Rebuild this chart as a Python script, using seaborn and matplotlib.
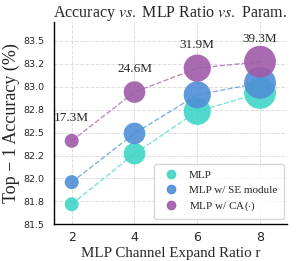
import numpy as np
import pandas as pd
import matplotlib
matplotlib.use("Agg")
import matplotlib.pyplot as plt
import seaborn as sns

ratios = [2, 4, 6, 8]
params = [17.3, 24.6, 31.9, 39.3]
param_labels = ["17.3M", "24.6M", "31.9M", "39.3M"]
acc_mlp = [81.72, 82.27, 82.73, 82.93]
acc_se = [81.96, 82.49, 82.91, 83.04]
acc_ca = [82.41, 82.94, 83.20, 83.27]
series_names = ["MLP", "MLP w/ SE module", r"MLP w/ CA($\cdot$)"]
colors = ["#40d6c8", "#4f8fd6", "#a05ba8"]

sns.set_theme(style="whitegrid")
plt.rcParams["mathtext.fontset"] = "stix"

fig, ax = plt.subplots(figsize=(2.99, 2.61), dpi=100)

rows = []
for name, acc in zip(series_names, [acc_mlp, acc_se, acc_ca]):
    for r, a, p in zip(ratios, acc, params):
        rows.append({"ratio": r, "acc": a, "params": p, "model": name})
df = pd.DataFrame(rows)

# dashed trend lines behind the bubbles
for name, c in zip(series_names, colors):
    sub = df[df["model"] == name]
    ax.plot(sub["ratio"], sub["acc"], linestyle="--", color=c, alpha=0.7, lw=1.0, zorder=2)

sns.scatterplot(data=df, x="ratio", y="acc", hue="model", palette=colors,
                size="params", sizes=(0.34 * min(params) ** 2, 0.34 * max(params) ** 2),
                alpha=0.9, linewidth=0, ax=ax, zorder=3, legend=False)

for r, a, lab in zip(ratios, acc_ca, param_labels):
    ax.annotate(lab, (r, a), xytext=(0, 16.5), textcoords="offset points",
                ha="center", va="center", fontsize=9.5, family="Liberation Serif")

ax.set_xlim(1.43, 8.86)
ax.set_ylim(81.5, 83.7)
ax.set_xticks(ratios)
yt = [81.5, 81.75, 82.0, 82.25, 82.5, 82.75, 83.0, 83.25, 83.5]
ax.set_yticks(yt)
ax.set_yticklabels([f"{v:.1f}" for v in yt], fontsize=6.8)
ax.tick_params(axis="x", labelsize=9, pad=5, length=0)
ax.tick_params(axis="y", pad=6.5, length=0)

ax.grid(True, linestyle="--", color="#dddddd", lw=0.7)
for s in ["top", "right"]:
    ax.spines[s].set_visible(False)
for s in ["left", "bottom"]:
    ax.spines[s].set_color("black")
    ax.spines[s].set_linewidth(1.0)

ax.set_xlabel("MLP Channel Expand Ratio r", fontsize=10.8, family="Liberation Serif", labelpad=2)
ax.set_ylabel("Top \u2212 1 Accuracy (%)", fontsize=13, family="Liberation Serif", labelpad=3)
ax.set_title(r"Accuracy $\it{vs.}$ MLP Ratio $\it{vs.}$ Param.", fontsize=11.5,
             family="Liberation Serif", pad=4)

handles = [plt.Line2D([], [], marker="o", ls="", color=c, markersize=6, alpha=0.9) for c in colors]
leg = ax.legend(handles, series_names, loc="lower right", frameon=True,
                prop={"family": "Liberation Serif", "size": 8}, borderpad=0.55,
                handletextpad=0.6, labelspacing=0.45, borderaxespad=0,
                bbox_to_anchor=(0.985, 0.025))
leg.get_frame().set_edgecolor("#cccccc")

fig.subplots_adjust(left=0.18, right=0.96, bottom=0.14, top=0.915)
fig.savefig("out.png", dpi=100)
